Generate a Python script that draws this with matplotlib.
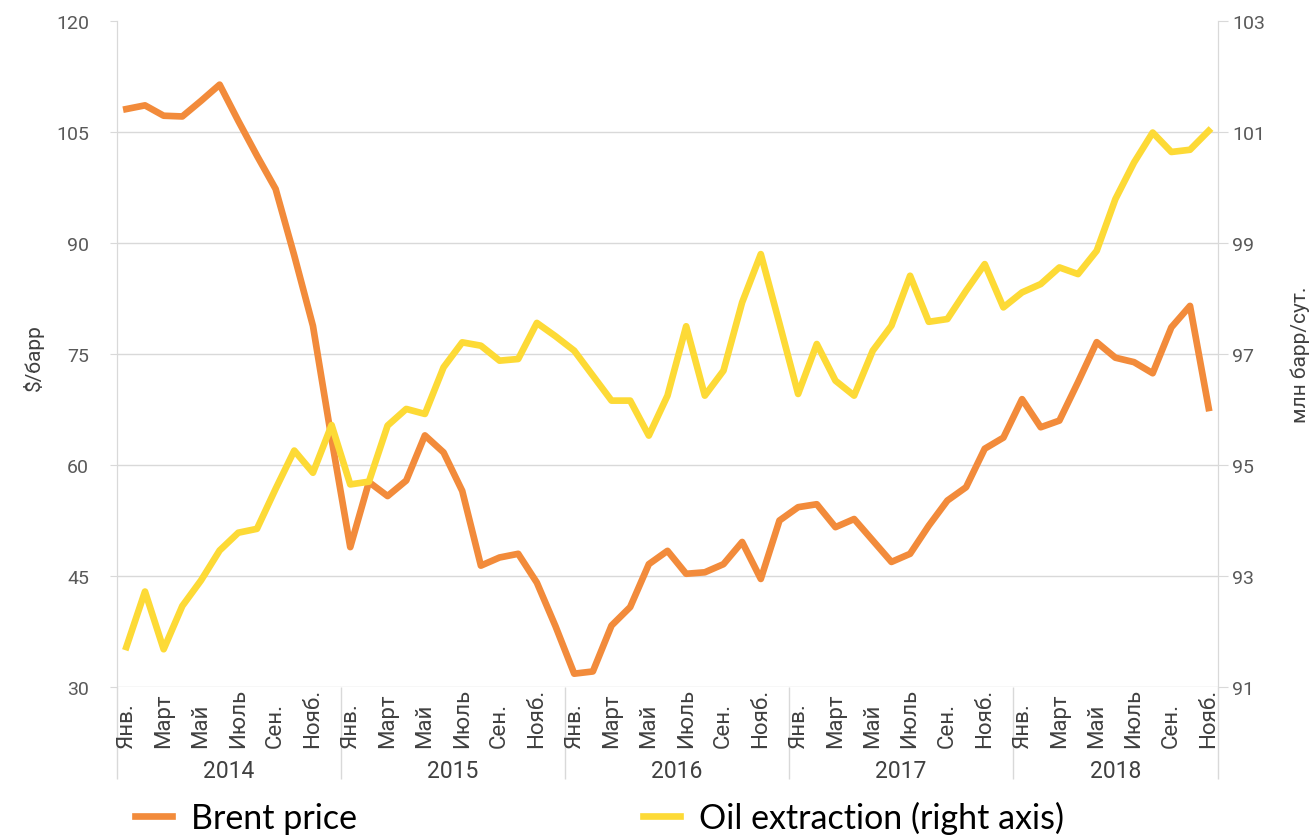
import matplotlib
matplotlib.use('Agg')
import matplotlib.pyplot as plt
import numpy as np

# Данные: Brent ($/барр) и добыча нефти (млн барр/сут.), янв. 2014 - нояб. 2018
brent = [108.1, 108.6, 107.2, 107.1, 109.2, 111.4, 106.5, 101.8, 97.3, 88.3, 78.8, 63.5,
         48.9, 57.7, 55.8, 57.9, 64.0, 61.7, 56.5, 46.4, 47.5, 48.0, 44.1, 38.2,
         31.8, 32.1, 38.3, 40.8, 46.6, 48.4, 45.3, 45.5, 46.6, 49.6, 44.6, 52.5,
         54.3, 54.7, 51.6, 52.7, 49.8, 46.9, 48.0, 51.8, 55.2, 57.0, 62.2, 63.7,
         68.9, 65.1, 66.0, 71.2, 76.6, 74.5, 73.9, 72.4, 78.6, 81.5, 67.7]

oil = [91.72, 92.72, 91.68, 92.46, 92.92, 93.46, 93.78, 93.85, 94.57, 95.26, 94.86, 95.72,
       94.65, 94.70, 95.71, 96.01, 95.92, 96.76, 97.21, 97.15, 96.88, 96.91, 97.56, 97.32,
       97.06, 96.61, 96.16, 96.16, 95.53, 96.25, 97.50, 96.25, 96.70, 97.93, 98.80, 97.55,
       96.28, 97.18, 96.52, 96.25, 97.06, 97.51, 98.41, 97.58, 97.63, 98.14, 98.62, 97.84,
       98.11, 98.26, 98.56, 98.44, 98.86, 99.79, 100.45, 100.99, 100.64, 100.68, 101.02]

years = ['2014', '2015', '2016', '2017', '2018']
months_in_year = [12, 12, 12, 12, 11]
month_labels = ['Янв.', 'Март', 'Май', 'Июль', 'Сен.', 'Нояб.']

left_ticks = [30, 45, 60, 75, 90, 105, 120]
right_ticks = [91, 93, 95, 97, 99, 101, 103]

ORANGE = '#F28B3B'
YELLOW = '#FDDA36'
GRID = '#d9d9d9'
TXT = '#404040'
NARROW = ['Liberation Sans Narrow', 'Roboto', 'DejaVu Sans']
NUM = ['Roboto', 'DejaVu Sans']

fig = plt.figure(figsize=(13.14, 8.37), dpi=100)
W, H = 1314, 837
ax = fig.add_axes([117 / W, 1 - 688 / H, (1218 - 117) / W, (688 - 22) / H])
ax2 = ax.twinx()

x = np.arange(len(brent))
l1, = ax.plot(x, brent, color=ORANGE, lw=4.8, solid_joinstyle='round', label='Brent price')
l2, = ax2.plot(x, oil, color=YELLOW, lw=4.8, solid_joinstyle='round',
               label='Oil extraction (right axis)')

ax.set_xlim(-0.5, len(brent) - 0.5)
ax.set_ylim(30, 120)
ax2.set_ylim(91, 103)

# сетка (без верхней линии)
for v in left_ticks[:-1]:
    ax.axhline(v, color=GRID, lw=1, zorder=0)

for a in (ax, ax2):
    for s in ['top', 'bottom']:
        a.spines[s].set_visible(False)
    a.spines['left'].set_color(GRID)
    a.spines['right'].set_color(GRID)

ax.set_yticks(left_ticks)
ax.set_yticklabels([str(v) for v in left_ticks], family=NUM)
ax.tick_params(axis='y', length=5, color=GRID, labelsize=14, labelcolor='#595959', pad=15)
ax2.set_yticks(right_ticks)
ax2.set_yticklabels([str(v) for v in right_ticks], family=NUM)
ax2.tick_params(axis='y', length=7, color=GRID, labelsize=14, labelcolor='#595959', pad=3)

# подписи месяцев и годов
pos = []
labs = []
bounds = [-0.5]
start = 0
for n in months_in_year:
    for k in range(0, n, 2):
        pos.append(start + k)
        labs.append(month_labels[k // 2])
    start += n
    bounds.append(start - 0.5)

ax.set_xticks(pos)
ax.set_xticklabels([''] * len(pos))
ax.tick_params(axis='x', which='major', length=0)
ax.set_xticks(bounds, minor=True)
ax.tick_params(axis='x', which='minor', length=66, color=GRID, width=1)

tr = ax.get_xaxis_transform()
for p, t in zip(pos, labs):
    ax.text(p, -0.09, t, transform=tr, rotation=90, ha='center', va='bottom',
            fontsize=16, color=TXT, family=NARROW)
for i, yname in enumerate(years):
    ax.text((bounds[i] + bounds[i + 1]) / 2, -0.126, yname, transform=tr,
            ha='center', va='center', fontsize=16.5, color=TXT, family=NARROW)

fig.text(33 / W, 1 - 358 / H, '$/барр', rotation=90, ha='center', va='center',
         fontsize=15, color=TXT, family=NARROW)
fig.text(1300 / W, 1 - 355 / H, 'млн барр/сут.', rotation=90, ha='center', va='center',
         fontsize=15, color=TXT, family=NARROW)

fig.legend(handles=[l1, l2], ncol=2, loc='center left', bbox_to_anchor=(135 / W, 1 - 818 / H),
           frameon=False, prop={'family': 'Lato', 'size': 24.5}, handlelength=1.1,
           handletextpad=0.55, columnspacing=8.4, borderpad=0, borderaxespad=0)

fig.savefig('out.png', dpi=100)
